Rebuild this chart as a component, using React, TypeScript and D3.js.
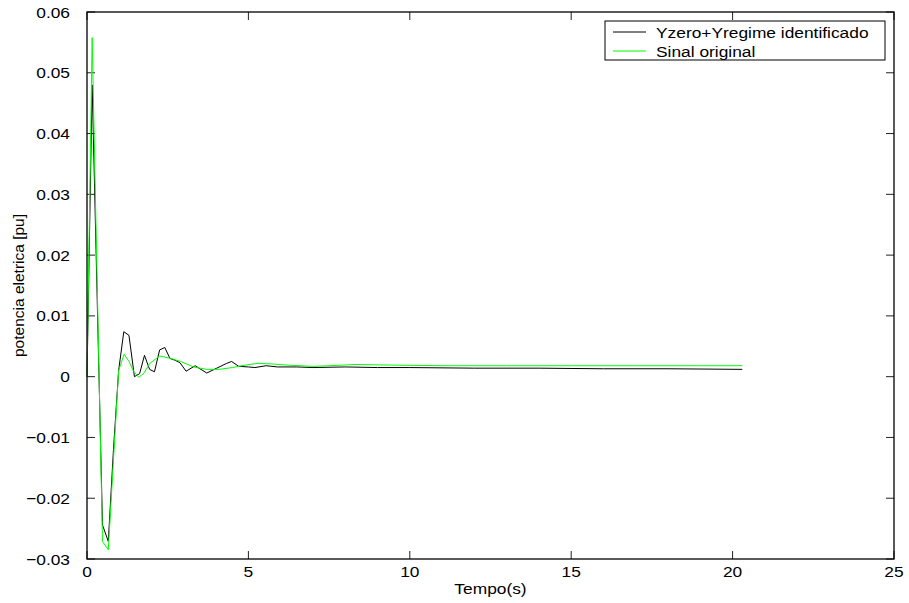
import React from "react";
import * as d3 from "d3";

const xTicks = [0, 5, 10, 15, 20, 25];
const yTicks = [-0.03, -0.02, -0.01, 0, 0.01, 0.02, 0.03, 0.04, 0.05, 0.06];

const tBlack = [0, 0.16, 0.48, 0.66, 0.82, 0.98, 1.14, 1.3, 1.47, 1.63, 1.78, 1.94, 2.09, 2.25, 2.41, 2.57, 2.73, 2.88, 3.07, 3.35, 3.71, 4.02, 4.33, 4.48, 4.7, 5.0, 5.2, 5.55, 5.9, 6.5, 7, 8, 9, 10, 12, 14, 16, 18, 20.3];
const vBlack = [0, 0.048, -0.0244, -0.0271, -0.012, 0.001, 0.0074, 0.0068, 0.0, 0.0005, 0.0035, 0.0012, 0.0008, 0.0044, 0.0048, 0.003, 0.0027, 0.0023, 0.0009, 0.0018, 0.0006, 0.0014, 0.0022, 0.0025, 0.0017, 0.0016, 0.0015, 0.0018, 0.0016, 0.0016, 0.0015, 0.0016, 0.0015, 0.0015, 0.0014, 0.0014, 0.0013, 0.0013, 0.0012];

const tGreen = [0, 0.16, 0.48, 0.66, 0.98, 1.15, 1.3, 1.45, 1.6, 1.75, 1.95, 2.25, 2.6, 2.9, 3.3, 3.7, 4.1, 4.5, 4.9, 5.3, 5.7, 6.2, 7, 7.5, 8.3, 9.5, 11, 13, 15, 17, 19, 20.3];
const vGreen = [0, 0.0558, -0.0271, -0.0285, 0.001, 0.0037, 0.0025, 0.0008, -0.0001, 0.0005, 0.0022, 0.0034, 0.003, 0.0025, 0.0016, 0.0012, 0.0012, 0.0015, 0.0019, 0.0022, 0.0021, 0.0019, 0.0017, 0.0018, 0.002, 0.0019, 0.0018, 0.0018, 0.0018, 0.0018, 0.0018, 0.0018];

const legendLabels = ["Yzero+Yregime identificado", "Sinal original"];
const legendColors = ["#000000", "#00ff00"];

const FS = 15.5;
const SX = 1.12;

function HText(props: { x: number; y: number; anchor?: string; children: React.ReactNode }) {
  return (
    <text
      transform={`translate(${props.x},${props.y}) scale(${SX},1)`}
      fontSize={FS}
      textAnchor={props.anchor || "start"}
      fill="#000"
    >
      {props.children}
    </text>
  );
}

export default function App() {
  const W = 909, H = 603;
  const L = 87, R = 894, T = 12, B = 559;
  const x = d3.scaleLinear().domain([0, 25]).range([L, R]);
  const y = d3.scaleLinear().domain([-0.03, 0.06]).range([B, T]);
  const line = d3.line<[number, number]>().x(d => x(d[0])).y(d => y(d[1]));
  const blackPts = tBlack.map((t, i) => [t, vBlack[i]] as [number, number]);
  const greenPts = tGreen.map((t, i) => [t, vGreen[i]] as [number, number]);
  const font = "'Liberation Sans', Arial, sans-serif";
  const fmtY = (v: number) => {
    if (Math.abs(v) < 1e-12) return "0";
    const s = v.toFixed(2);
    return v < 0 ? "\u2212" + s.slice(1) : s;
  };
  const tl = 8;
  return (
    <svg width={W} height={H} style={{ position: "absolute", left: 0, top: 0, background: "#fff" }} fontFamily={font}>
      <rect x={0} y={0} width={W} height={H} fill="#fff" />
      {xTicks.map(t => (
        <g key={"xt" + t}>
          <line x1={x(t)} x2={x(t)} y1={B} y2={B - tl} stroke="#222" strokeWidth={1} />
          <line x1={x(t)} x2={x(t)} y1={T} y2={T + tl} stroke="#222" strokeWidth={1} />
          <HText x={x(t)} y={576.5} anchor="middle">{t}</HText>
        </g>
      ))}
      {yTicks.map(v => (
        <g key={"yt" + v}>
          <line x1={L} x2={L + tl} y1={y(v)} y2={y(v)} stroke="#222" strokeWidth={1} />
          <line x1={R} x2={R - tl} y1={y(v)} y2={y(v)} stroke="#222" strokeWidth={1} />
          <HText x={70} y={y(v) + 5.5} anchor="end">{fmtY(v)}</HText>
        </g>
      ))}
      <path d={line(blackPts) || ""} fill="none" stroke="#000" strokeWidth={1} />
      <path d={line(greenPts) || ""} fill="none" stroke="#00ff00" strokeWidth={1} />
      <rect x={L} y={T} width={R - L} height={B - T} fill="none" stroke="#000" strokeWidth={1.3} />
      <g>
        <rect x={605} y={21} width={280} height={39} fill="#fff" stroke="#000" strokeWidth={1} />
        {legendLabels.map((lab, i) => (
          <g key={lab}>
            <line x1={613} x2={646} y1={32 + i * 19} y2={32 + i * 19} stroke={legendColors[i]} strokeWidth={1} />
            <HText x={656} y={37.5 + i * 19}>{lab}</HText>
          </g>
        ))}
      </g>
      <HText x={(L + R) / 2} y={594} anchor="middle">Tempo(s)</HText>
      <text transform={`translate(24,${(T + B) / 2}) rotate(-90)`} fontSize={FS} textAnchor="middle" fill="#000">potencia eletrica [pu]</text>
    </svg>
  );
}
